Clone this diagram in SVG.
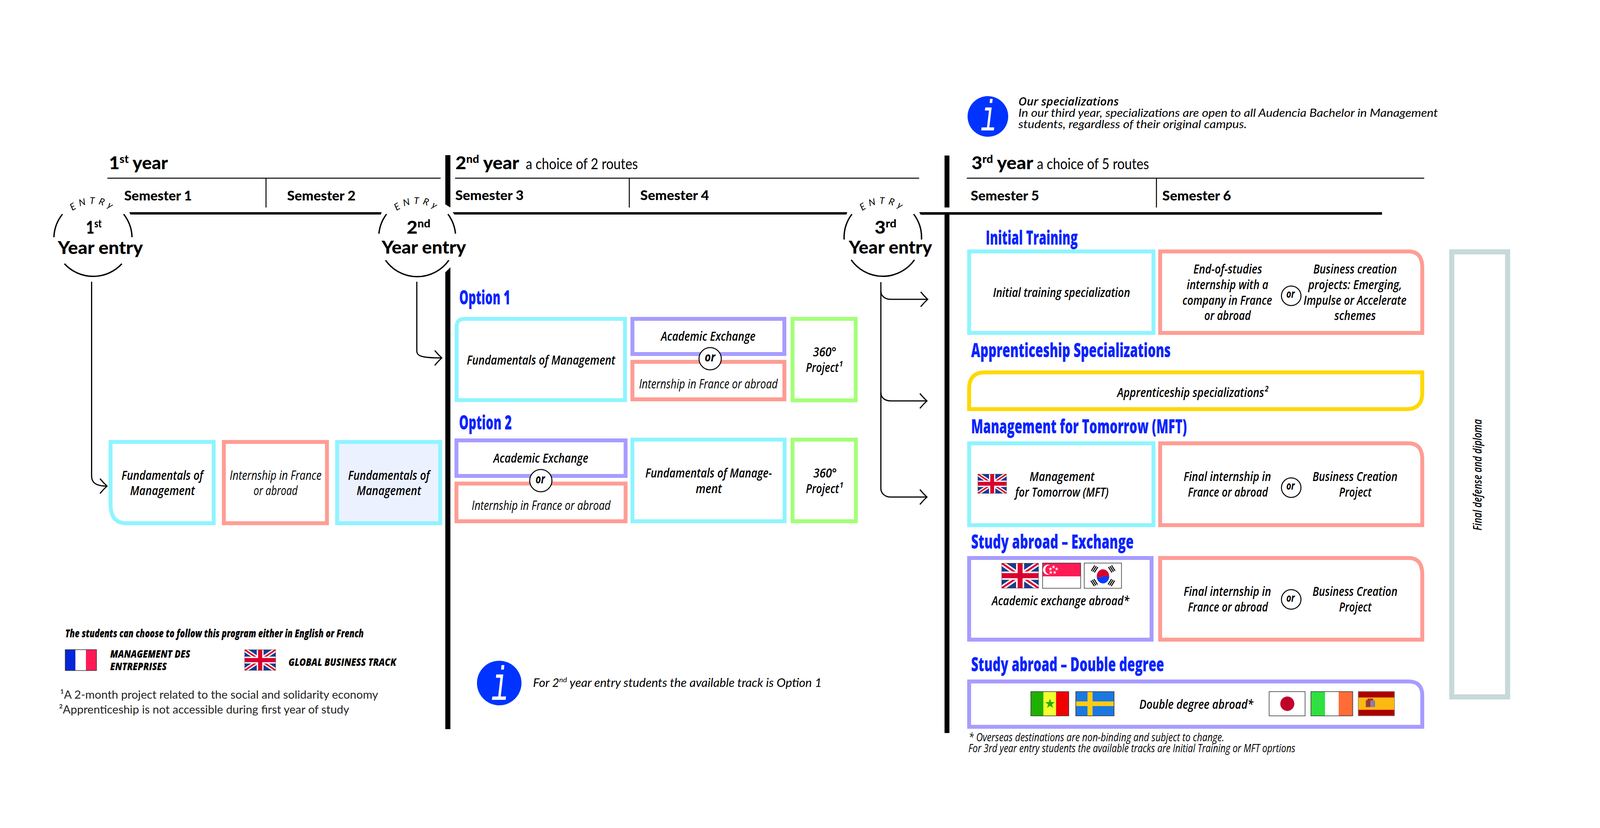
<svg xmlns="http://www.w3.org/2000/svg" width="4123" height="2119" viewBox="0 0 4123 2119">
<style>
text{font-family:"Open Sans","Noto Sans","Liberation Sans",sans-serif;fill:#000}
.box{fill:#fff;stroke-width:10}
.c{stroke:#8ff4ff}.s{stroke:#ff9d94}.p{stroke:#a79cff}.g{stroke:#a4ff78}.y{stroke:#ffd800}
.t{font-style:italic;font-weight:600;font-size:33px}
.tl{font-style:italic;font-weight:400;font-size:33px}
.or{font-style:italic;font-weight:700;font-size:33px}
.hb{font-weight:800;font-size:50px;fill:#0a24ff}
.yr{font-family:Lato,"Open Sans",sans-serif;font-weight:900;font-size:46px}
.sem{font-family:Lato,"Open Sans",sans-serif;font-weight:900;font-size:35px}
.ch{font-family:Lato,"Open Sans",sans-serif;font-weight:400;font-size:38px}
.ent{font-family:Lato,"Open Sans",sans-serif;font-style:italic;font-weight:400;font-size:24px;letter-spacing:9px}
.inf{font-family:Lato,"Open Sans",sans-serif;font-style:italic;font-weight:400;font-size:29px}
.ik{font-family:"Liberation Mono",monospace;font-style:italic;font-weight:400;fill:#fff}
.fn{font-style:italic;font-weight:500;font-size:29px}
.lang{font-style:italic;font-weight:800;font-size:27px}
.note{font-family:Lato,"Open Sans",sans-serif;font-weight:400;font-size:29px;fill:#222}
.rule{stroke:#000;stroke-width:2.5;fill:none}
.arc{stroke:#000;stroke-width:3.5;fill:none}
.conn{stroke:#000;stroke-width:3;fill:none;marker-end:url(#head)}
.orc{fill:#fff;stroke:#000;stroke-width:2.5}
.bd{fill:none;stroke:#333;stroke-width:1.5}
</style>
<defs>
<marker id="head" markerUnits="userSpaceOnUse" viewBox="-24 -24 28 48" markerWidth="28" markerHeight="48" refX="0" refY="0" orient="auto" overflow="visible">
<path d="M-18 -19Q-9 -8 0 0Q-9 8 -18 19" fill="none" stroke="#000" stroke-width="3"/>
</marker>
<symbol id="flag-uk" viewBox="0 0 60 40" preserveAspectRatio="none">
<rect width="60" height="40" fill="#1c3a8f"/>
<path d="M0 0L60 40M60 0L0 40" stroke="#fff" stroke-width="8"/>
<path d="M0 0L60 40M60 0L0 40" stroke="#d8002e" stroke-width="3"/>
<path d="M30 0V40M0 20H60" stroke="#fff" stroke-width="13"/>
<path d="M30 0V40M0 20H60" stroke="#d8002e" stroke-width="8"/>
<rect width="60" height="40" fill="none" stroke="#333" stroke-width="1"/>
</symbol>
<polygon id="star" points="0,-5 1.2,-1.6 4.8,-1.5 1.9,0.6 2.9,4 0,2 -2.9,4 -1.9,0.6 -4.8,-1.5 -1.2,-1.6"/>
<path id="arc1" d="M153 607A85 85 0 0 1 323 607"/>
<path id="arc2" d="M983 607A85 85 0 0 1 1153 607"/>
<path id="arc3" d="M2175 607A85 85 0 0 1 2345 607"/>
</defs>
<rect width="4123" height="2119" fill="#fff"/>

<g id="structure">
<polygon points="1140,397 1153,397 1153,531 1140,523"/>
<polygon points="1140,697 1153,684 1153,1866 1140,1866"/>
<rect x="2418" y="398" width="12.500" height="133"/>
<rect x="2418" y="549" width="12.500" height="1327"/>
<polygon points="331,543 977,543 975,549 334,549"/>
<polygon points="1159,543 2169,543 2167,549 1163,549"/>
<polygon points="2353,543 3538,543 3538,549.500 2357,549.500"/>
<path class="rule" d="M275 456H1128M681 457V531M1165 456H2353M1611 457V531M2475 456H3646M2960.500 457V531"/>
</g>

<g id="headers">
<text class="yr" x="279" y="433" textLength="151" lengthAdjust="spacingAndGlyphs">1<tspan font-size="28" dy="-16">st</tspan><tspan dy="16"> year</tspan></text>
<text class="sem" x="318" y="513" textLength="173" lengthAdjust="spacingAndGlyphs">Semester 1</text>
<text class="sem" x="735" y="513" textLength="175" lengthAdjust="spacingAndGlyphs">Semester 2</text>
<text class="yr" x="1166" y="433" textLength="163" lengthAdjust="spacingAndGlyphs">2<tspan font-size="28" dy="-16">nd</tspan><tspan dy="16"> year</tspan></text>
<text class="ch" x="1346" y="433" textLength="287" lengthAdjust="spacingAndGlyphs">a choice of 2 routes</text>
<text class="sem" x="1165.500" y="512" textLength="175" lengthAdjust="spacingAndGlyphs">Semester 3</text>
<text class="sem" x="1639" y="512" textLength="176" lengthAdjust="spacingAndGlyphs">Semester 4</text>
<text class="yr" x="2487" y="433" textLength="158" lengthAdjust="spacingAndGlyphs">3<tspan font-size="28" dy="-16">rd</tspan><tspan dy="16"> year</tspan></text>
<text class="ch" x="2654.500" y="433" textLength="287" lengthAdjust="spacingAndGlyphs">a choice of 5 routes</text>
<text class="sem" x="2485" y="513" textLength="175" lengthAdjust="spacingAndGlyphs">Semester 5</text>
<text class="sem" x="2975.500" y="513" textLength="176" lengthAdjust="spacingAndGlyphs">Semester 6</text>
</g>

<g id="entry-1">
<path class="arc" d="M160 548A100 100 0 0 0 138 607M316.500 548A100 100 0 0 1 338 607M165 675A100 100 0 0 0 312 675"/>
<text class="ent" text-anchor="middle"><textPath href="#arc1" startOffset="50%">ENTRy</textPath></text>
<text class="yr" x="220" y="598" textLength="40" lengthAdjust="spacingAndGlyphs">1<tspan font-size="28" dy="-16">st</tspan></text>
<text class="yr" x="148" y="650" textLength="218" lengthAdjust="spacingAndGlyphs">Year entry</text>
</g>
<g id="entry-2">
<path class="arc" d="M989.500 548A99 99 0 0 0 970 598M1146.700 548A99 99 0 0 1 1166 598M987 666A99 99 0 0 0 1149 666"/>
<text class="ent" text-anchor="middle"><textPath href="#arc2" startOffset="50%">ENTRy</textPath></text>
<text class="yr" x="1041" y="598" textLength="61" lengthAdjust="spacingAndGlyphs">2<tspan font-size="28" dy="-16">nd</tspan></text>
<text class="yr" x="977" y="649" textLength="216" lengthAdjust="spacingAndGlyphs">Year entry</text>
</g>
<g id="entry-3">
<path class="arc" d="M2181 548A99 99 0 0 0 2161 613M2339 548A99 99 0 0 1 2359 613M2179 665A99 99 0 0 0 2341 665"/>
<text class="ent" text-anchor="middle"><textPath href="#arc3" startOffset="50%">ENTRy</textPath></text>
<text class="yr" x="2239" y="598" textLength="56" lengthAdjust="spacingAndGlyphs">3<tspan font-size="28" dy="-16">rd</tspan></text>
<text class="yr" x="2173" y="649" textLength="213" lengthAdjust="spacingAndGlyphs">Year entry</text>
</g>

<g id="connectors">
<path class="conn" d="M234.500 721V1218C234.500 1235 245 1244 274 1244"/>
<path class="conn" d="M1067 721V898C1067 910 1075 916 1131 916"/>
<path class="conn" d="M2255 722V745C2255 757 2265 766 2280 766H2375"/>
<path class="conn" d="M2255 745V1005C2255 1017 2265 1026 2280 1026H2373"/>
<path class="conn" d="M2255 1005V1250C2255 1262 2265 1272 2280 1272H2373"/>
</g>

<g id="y1-fundamentals">
<path class="box c" d="M283 1131H547V1339H323Q283 1339 283 1290Z"/>
<text class="t" x="311" y="1228" textLength="209" lengthAdjust="spacingAndGlyphs">Fundamentals of</text>
<text class="t" x="333" y="1267" textLength="166" lengthAdjust="spacingAndGlyphs">Management</text>
</g>
<g id="y1-internship">
<rect class="box s" x="573" y="1131" width="264" height="208"/>
<text class="tl" x="588" y="1228" textLength="235" lengthAdjust="spacingAndGlyphs">Internship in France</text>
<text class="tl" x="649" y="1267" textLength="113" lengthAdjust="spacingAndGlyphs">or abroad</text>
</g>
<g id="y1-fundamentals-2">
<rect class="box c" x="863" y="1131" width="264" height="208" style="fill:#ebf1ff"/>
<text class="t" x="891" y="1228" textLength="209" lengthAdjust="spacingAndGlyphs">Fundamentals of</text>
<text class="t" x="913" y="1267" textLength="165" lengthAdjust="spacingAndGlyphs">Management</text>
</g>

<g id="option-1">
<text class="hb" x="1175.500" y="779" textLength="131" lengthAdjust="spacingAndGlyphs">Option 1</text>
<path class="box c" d="M1169 836Q1169 816 1189 816H1600V1024H1169Z"/>
<text class="t" x="1195" y="933" textLength="380" lengthAdjust="spacingAndGlyphs">Fundamentals of Management</text>
<rect class="box p" x="1619" y="816" width="389" height="90"/>
<text class="t" x="1692" y="872" textLength="242" lengthAdjust="spacingAndGlyphs">Academic Exchange</text>
<rect class="box s" x="1619" y="926" width="389" height="96"/>
<text class="tl" x="1636" y="993.500" textLength="355" lengthAdjust="spacingAndGlyphs">Internship in France or abroad</text>
<circle class="orc" cx="1818" cy="918" r="28.500"/>
<text class="or" x="1804" y="925" textLength="27" lengthAdjust="spacingAndGlyphs">or</text>
<rect class="box g" x="2029" y="816" width="161.500" height="208.500"/>
<text class="t" x="2081" y="912" textLength="60" lengthAdjust="spacingAndGlyphs">360°</text>
<text class="t" x="2063" y="952" textLength="93.500" lengthAdjust="spacingAndGlyphs">Project¹</text>
</g>

<g id="option-2">
<text class="hb" x="1175" y="1099" textLength="135" lengthAdjust="spacingAndGlyphs">Option 2</text>
<rect class="box p" x="1168.500" y="1127" width="433" height="91"/>
<text class="t" x="1263" y="1184" textLength="243" lengthAdjust="spacingAndGlyphs">Academic Exchange</text>
<rect class="box s" x="1168.500" y="1237.500" width="433" height="96.500"/>
<text class="tl" x="1207.500" y="1305" textLength="355.500" lengthAdjust="spacingAndGlyphs">Internship in France or abroad</text>
<circle class="orc" cx="1384.500" cy="1230" r="28.500"/>
<text class="or" x="1371" y="1236.700" textLength="24" lengthAdjust="spacingAndGlyphs">or</text>
<rect class="box c" x="1619" y="1125" width="389.500" height="209"/>
<text class="t" x="1652" y="1221.700" textLength="324" lengthAdjust="spacingAndGlyphs">Fundamentals of Manage-</text>
<text class="t" x="1781" y="1261.700" textLength="67" lengthAdjust="spacingAndGlyphs">ment</text>
<rect class="box g" x="2029" y="1125" width="162" height="209"/>
<text class="t" x="2082" y="1221.700" textLength="60" lengthAdjust="spacingAndGlyphs">360°</text>
<text class="t" x="2063" y="1261.700" textLength="94.500" lengthAdjust="spacingAndGlyphs">Project¹</text>
</g>

<g id="info-specializations">
<circle cx="2529" cy="298" r="52" fill="#0033ff"/>
<text class="ik" text-anchor="middle" font-size="112" transform="translate(2531 334) scale(.6 1)">i</text>
<text class="inf" x="2607" y="270" textLength="257" lengthAdjust="spacingAndGlyphs" style="font-family:'Open Sans',sans-serif;font-weight:600">Our specializations</text>
<text class="inf" x="2607" y="299" textLength="1074" lengthAdjust="spacingAndGlyphs">In our third year, specializations are open to all Audencia Bachelor in Management</text>
<text class="inf" x="2607" y="327.500" textLength="585" lengthAdjust="spacingAndGlyphs">students, regardless of their original campus.</text>
</g>

<g id="initial-training">
<text class="hb" x="2523.500" y="626" textLength="235.500" lengthAdjust="spacingAndGlyphs">Initial Training</text>
<rect class="box c" x="2481" y="643.500" width="472" height="208.500"/>
<text class="t" x="2542" y="760" textLength="351" lengthAdjust="spacingAndGlyphs">Initial training specialization</text>
<path class="box s" d="M2970 643.500H3606Q3641 643.500 3641 685V852H2970Z"/>
<text class="t" x="3055" y="700" textLength="176" lengthAdjust="spacingAndGlyphs">End-of-studies</text>
<text class="t" x="3038" y="739.500" textLength="209" lengthAdjust="spacingAndGlyphs">internship with a</text>
<text class="t" x="3027" y="779.500" textLength="229.500" lengthAdjust="spacingAndGlyphs">company in France</text>
<text class="t" x="3083" y="819" textLength="119" lengthAdjust="spacingAndGlyphs">or abroad</text>
<circle class="orc" cx="3305.500" cy="757" r="25"/>
<text class="or" x="3293" y="762" textLength="21.500" lengthAdjust="spacingAndGlyphs" style="font-size:28px">or</text>
<text class="t" x="3362" y="700" textLength="214" lengthAdjust="spacingAndGlyphs">Business creation</text>
<text class="t" x="3349" y="739.500" textLength="240" lengthAdjust="spacingAndGlyphs">projects: Emerging,</text>
<text class="t" x="3337" y="779.500" textLength="263.500" lengthAdjust="spacingAndGlyphs">Impulse or Accelerate</text>
<text class="t" x="3416" y="819" textLength="106" lengthAdjust="spacingAndGlyphs">schemes</text>
</g>

<g id="apprenticeship">
<text class="hb" x="2486" y="914" textLength="511" lengthAdjust="spacingAndGlyphs">Apprenticeship Specializations</text>
<path class="box y" d="M2481 1047V995Q2481 953 2521 953H3641V1005Q3641 1047 3601 1047Z"/>
<text class="t" x="2860" y="1016" textLength="386" lengthAdjust="spacingAndGlyphs">Apprenticeship specializations²</text>
</g>

<g id="mft">
<text class="hb" x="2486" y="1108.500" textLength="552.500" lengthAdjust="spacingAndGlyphs">Management for Tomorrow (MFT)</text>
<rect class="box c" x="2481" y="1134.500" width="472" height="209.500"/>
<use href="#flag-uk" x="2503" y="1213" width="74" height="50"/>
<text class="t" x="2635.500" y="1231" textLength="166.500" lengthAdjust="spacingAndGlyphs">Management</text>
<text class="t" x="2599" y="1271" textLength="239" lengthAdjust="spacingAndGlyphs">for Tomorrow (MFT)</text>
<path class="box s" d="M2970 1134.500H3606Q3641 1134.500 3641 1176V1344H2970Z"/>
<text class="t" x="3030" y="1231" textLength="224" lengthAdjust="spacingAndGlyphs">Final internship in</text>
<text class="t" x="3041" y="1271" textLength="205" lengthAdjust="spacingAndGlyphs">France or abroad</text>
<circle class="orc" cx="3305.500" cy="1248" r="25"/>
<text class="or" x="3293" y="1253" textLength="21.500" lengthAdjust="spacingAndGlyphs" style="font-size:28px">or</text>
<text class="t" x="3360" y="1231" textLength="217.500" lengthAdjust="spacingAndGlyphs">Business Creation</text>
<text class="t" x="3428" y="1271" textLength="83" lengthAdjust="spacingAndGlyphs">Project</text>
</g>

<g id="exchange">
<text class="hb" x="2486" y="1404" textLength="416" lengthAdjust="spacingAndGlyphs">Study abroad – Exchange</text>
<rect class="box p" x="2481" y="1428" width="467" height="209"/>
<use href="#flag-uk" x="2564" y="1441" width="95" height="64.500"/>
<g transform="translate(2669 1441)">
<rect width="97.500" height="64.500" fill="#fff"/>
<rect width="97.500" height="34" fill="#ff1a55"/>
<circle cx="14" cy="17" r="13" fill="#fff"/><circle cx="19" cy="17" r="12" fill="#ff1a55"/>
<g fill="#fff"><use href="#star" x="28" y="10"/><use href="#star" x="20" y="15"/><use href="#star" x="36" y="15"/><use href="#star" x="21" y="24"/><use href="#star" x="31" y="24"/></g>
<rect class="bd" width="97.500" height="64.500"/>
</g>
<g transform="translate(2775.600 1441)">
<rect width="95.400" height="64.500" fill="#fff"/>
<path d="M32 34A16 18 0 0 1 64 34Q56 28 48 34Z" fill="#d8002e"/>
<path d="M32 34A16 18 0 0 0 64 34Q56 28 48 34Q40 40 32 34Z" fill="#0a3cff"/>
<path d="M32 34Q40 40 48 34Q56 28 64 34Z" fill="#d8002e"/>
<g stroke="#000" stroke-width="2.500">
<path d="M18 20L27 6M22 22L31 8M26 24L35 10"/>
<path d="M62 10L71 24M66 8L75 22M70 6L79 20"/>
<path d="M17 45L26 59M21 43L30 57M25 41L34 55"/>
<path d="M61 55L70 41M65 57L74 43M69 59L78 45"/>
</g>
<rect class="bd" width="95.400" height="64.500"/>
</g>
<text class="t" x="2539" y="1548.500" textLength="352" lengthAdjust="spacingAndGlyphs">Academic exchange abroad*</text>
<path class="box s" d="M2970 1428H3606Q3641 1428 3641 1470V1637H2970Z"/>
<text class="t" x="3030" y="1524.700" textLength="224" lengthAdjust="spacingAndGlyphs">Final internship in</text>
<text class="t" x="3041" y="1565" textLength="205" lengthAdjust="spacingAndGlyphs">France or abroad</text>
<circle class="orc" cx="3305.500" cy="1534" r="25"/>
<text class="or" x="3293" y="1540" textLength="21.500" lengthAdjust="spacingAndGlyphs" style="font-size:28px">or</text>
<text class="t" x="3360" y="1524.700" textLength="217.500" lengthAdjust="spacingAndGlyphs">Business Creation</text>
<text class="t" x="3428" y="1565" textLength="83" lengthAdjust="spacingAndGlyphs">Project</text>
</g>

<g id="double-degree">
<text class="hb" x="2486" y="1717.500" textLength="494" lengthAdjust="spacingAndGlyphs">Study abroad – Double degree</text>
<path class="box p" d="M2481 1744H3606Q3641 1744 3641 1780V1860H2481Z"/>
<g transform="translate(2639 1770)">
<rect width="32" height="62" fill="#1fb000"/><rect x="32" width="32.500" height="62" fill="#f4ff2e"/><rect x="64.500" width="32.500" height="62" fill="#f00000"/>
<use href="#star" transform="translate(49 31) scale(2.600)" fill="#1fb000"/>
<rect class="bd" width="97" height="62"/>
</g>
<g transform="translate(2754 1770)">
<rect width="98" height="62" fill="#1b78e0"/><rect x="30" width="13" height="62" fill="#ffcb14"/><rect y="25" width="98" height="12" fill="#ffcb14"/>
<rect class="bd" width="98" height="62"/>
</g>
<text class="t" x="2916.500" y="1814" textLength="292" lengthAdjust="spacingAndGlyphs">Double degree abroad*</text>
<g transform="translate(3249 1770)">
<rect width="92" height="62" fill="#fff"/><ellipse cx="46.500" cy="31" rx="18" ry="18.500" fill="#c00029"/>
<rect class="bd" width="92" height="62"/>
</g>
<g transform="translate(3356 1770)">
<rect width="36" height="62" fill="#30e040"/><rect x="36" width="35" height="62" fill="#fff"/><rect x="71" width="36" height="62" fill="#ff6c38"/>
<rect class="bd" width="107" height="62"/>
</g>
<g transform="translate(3477 1769.500)">
<rect width="93" height="62.500" fill="#ad0000"/><rect y="15.500" width="93" height="31.500" fill="#fdb913"/>
<rect x="20" y="22" width="11" height="18" fill="#a8322c"/><rect x="31" y="22" width="10" height="18" fill="#8a7fb0"/><rect x="24" y="18" width="14" height="5" fill="#a8322c"/><rect x="19" y="24" width="2" height="16" fill="#777"/><rect x="41" y="24" width="2" height="16" fill="#777"/>
<rect class="bd" width="93" height="62.500" style="stroke:#888"/>
</g>
</g>

<g id="final-defense">
<rect x="3716.500" y="644.500" width="143" height="1139" fill="#fff" stroke="#c7d9d9" stroke-width="13"/>
<text class="t" x="3793" y="1357.500" textLength="285" lengthAdjust="spacingAndGlyphs" transform="rotate(-90 3793 1357.500)" style="font-size:31px">Final defense and diploma</text>
</g>

<g id="footnotes-3">
<text class="fn" x="2480" y="1896.500" textLength="654" lengthAdjust="spacingAndGlyphs">* Overseas destinations are non-binding and subject to change.</text>
<text class="fn" x="2479" y="1925" textLength="837" lengthAdjust="spacingAndGlyphs">For 3rd year entry students the available tracks are Initial Training or MFT oprtions</text>
</g>

<g id="language-legend">
<text class="t" x="167" y="1631" textLength="764" lengthAdjust="spacingAndGlyphs" style="font-size:28px;font-weight:800">The students can choose to follow this program either in English or French</text>
<g transform="translate(167 1662.600)">
<rect width="26" height="53.400" fill="#0426d6"/><rect x="26" width="27" height="53.400" fill="#fff"/><rect x="53" width="27" height="53.400" fill="#ff1a55"/>
<rect class="bd" width="80" height="53.400"/>
</g>
<text class="lang" x="282" y="1683" textLength="205" lengthAdjust="spacingAndGlyphs">MANAGEMENT DES</text>
<text class="lang" x="282" y="1715" textLength="145" lengthAdjust="spacingAndGlyphs">ENTREPRISES</text>
<use href="#flag-uk" x="626" y="1662.600" width="80" height="53.400"/>
<text class="lang" x="738.500" y="1703.500" textLength="276" lengthAdjust="spacingAndGlyphs">GLOBAL BUSINESS TRACK</text>
</g>

<g id="notes">
<text class="note" x="154" y="1788" textLength="814" lengthAdjust="spacingAndGlyphs">¹A 2-month project related to the social and solidarity economy</text>
<text class="note" x="151" y="1826" textLength="743" lengthAdjust="spacingAndGlyphs">²Apprenticeship is not accessible during first year of study</text>
</g>

<g id="info-option">
<circle cx="1278" cy="1748" r="57" fill="#0033ff"/>
<text class="ik" text-anchor="middle" font-size="122" transform="translate(1280 1791) scale(.6 1)">i</text>
<text class="inf" x="1364.500" y="1758" textLength="739.500" lengthAdjust="spacingAndGlyphs" style="font-size:30px">For 2<tspan font-size="18" dy="-12">nd</tspan><tspan dy="12"> year entry students the available track is Option 1</tspan></text>
</g>
</svg>
